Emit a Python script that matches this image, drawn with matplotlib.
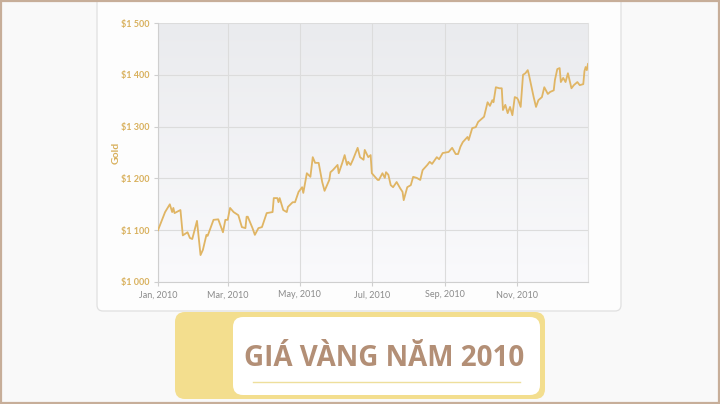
import numpy as np
import pandas as pd
import matplotlib
matplotlib.use("Agg")
import matplotlib.pyplot as plt
from matplotlib.patches import FancyBboxPatch, Rectangle
from matplotlib.colors import LinearSegmentedColormap

# ---- data ----
day_offsets = [0, 6, 10, 12, 13, 14, 19, 21, 25, 27, 29, 33, 36, 38, 41, 42, 47, 51, 55, 57,
               59, 61, 64, 68, 71, 74, 75, 76, 80, 82, 85, 88, 92, 97, 98, 101, 102, 103, 106, 109,
               110, 114, 116, 119, 122, 123, 126, 129, 131, 133, 136, 139, 141, 145, 146, 148, 152, 153, 156, 158,
               160, 161, 163, 165, 169, 171, 174, 175, 178, 180, 181, 186, 187, 190, 192, 193, 195, 197, 199, 202,
               205, 207, 208, 211, 214, 216, 219, 222, 224, 228, 230, 232, 236, 238, 241, 246, 249, 252, 254, 256,
               258, 262, 263, 266, 269, 271, 275, 276, 279, 281, 283, 284, 286, 289, 291, 292, 294, 296, 298, 300,
               302, 304, 305, 307, 309, 311, 313, 314, 318, 320, 322, 325, 327, 330, 332, 335, 336, 338, 340, 341,
               343, 345, 347, 350, 352, 355, 357, 360, 361, 362, 363, 364]
gold_price = [1100, 1135, 1150, 1135, 1143, 1133, 1139, 1090, 1096, 1085, 1083, 1118, 1052, 1062, 1091, 1089, 1120, 1121, 1096, 1120,
              1120, 1143, 1135, 1129, 1106, 1104, 1126, 1126, 1104, 1091, 1104, 1106, 1133, 1135, 1162, 1162, 1154, 1162, 1139, 1135,
              1145, 1154, 1154, 1174, 1183, 1172, 1210, 1203, 1241, 1230, 1230, 1193, 1176, 1197, 1212, 1216, 1226, 1210, 1230, 1245,
              1226, 1232, 1226, 1236, 1259, 1241, 1236, 1255, 1241, 1245, 1210, 1197, 1197, 1210, 1201, 1212, 1207, 1187, 1183, 1193,
              1181, 1174, 1158, 1183, 1187, 1203, 1201, 1197, 1216, 1226, 1232, 1228, 1241, 1237, 1249, 1251, 1259, 1247, 1247, 1261,
              1270, 1280, 1274, 1297, 1299, 1309, 1317, 1319, 1347, 1340, 1351, 1347, 1376, 1374, 1374, 1332, 1342, 1326, 1338, 1322,
              1357, 1355, 1351, 1338, 1400, 1403, 1409, 1400, 1357, 1338, 1351, 1357, 1376, 1363, 1367, 1370, 1390, 1411, 1413, 1386,
              1394, 1386, 1403, 1374, 1380, 1386, 1380, 1382, 1407, 1415, 1409, 1421]
y_ticks = [1000, 1100, 1200, 1300, 1400, 1500]
y_tick_labels = ["$1 000", "$1 100", "$1 200", "$1 300", "$1 400", "$1 500"]
x_tick_dates = ["2010-01-01", "2010-03-01", "2010-05-01", "2010-07-01", "2010-09-01", "2010-11-01"]
x_tick_labels = ["Jan, 2010", "Mar, 2010", "May, 2010", "Jul, 2010", "Sep, 2010", "Nov, 2010"]
title_text = "GIÁ VÀNG NĂM 2010"
y_label = "Gold"

dates = pd.Timestamp("2010-01-01") + pd.to_timedelta(day_offsets, unit="D")

W, H = 720, 404
fig = plt.figure(figsize=(W / 100, H / 100), dpi=100, facecolor="#f9f9f9")

# ---- background / decorations in pixel space ----
bg = fig.add_axes([0, 0, 1, 1], zorder=0)
bg.set_xlim(0, W)
bg.set_ylim(H, 0)
bg.axis("off")

bg.add_patch(FancyBboxPatch((97, -12), 524, 323,
                            boxstyle="round,pad=0,rounding_size=6",
                            fc="#fdfdfd", ec="#e0e0e0", lw=0.9))
bg.add_patch(FancyBboxPatch((175, 312), 370, 87,
                            boxstyle="round,pad=0,rounding_size=10",
                            fc="#f3de8e", ec="none"))
bg.add_patch(FancyBboxPatch((233, 317), 307, 78,
                            boxstyle="round,pad=0,rounding_size=10",
                            fc="#ffffff", ec="none"))
bg.plot([253, 520], [382, 382], color="#eedf9c", lw=1.0)
bg.text(384, 358, title_text, ha="center", va="center",
        fontsize=20, fontweight="bold", color="#b38f76",
        family=["Open Sans", "DejaVu Sans"])
bg.add_patch(Rectangle((1, 1), W - 2, H - 2, fill=False, ec="#c7ae99", lw=1.6))

# ---- chart ----
x0, x1, yt, yb = 158, 588, 23, 282
ax = fig.add_axes([x0 / W, (H - yb) / H, (x1 - x0) / W, (yb - yt) / H], zorder=1)
ax.patch.set_alpha(0)

grad = np.linspace(0, 1, 256).reshape(-1, 1)
cmap = LinearSegmentedColormap.from_list("bgg", ["#fafafc", "#eaebee"])
ax.imshow(grad, extent=[0, 1, 0, 1], transform=ax.transAxes, aspect="auto",
          cmap=cmap, origin="lower", zorder=0)

ax.plot(dates, gold_price, color="#e0b564", lw=1.3, zorder=3, solid_joinstyle="round")

ax.set_xlim(pd.Timestamp("2010-01-01"), pd.Timestamp("2010-12-31"))
ax.set_ylim(1000, 1500)
ax.set_yticks(y_ticks)
ax.set_yticklabels(y_tick_labels)
ax.set_xticks(pd.to_datetime(x_tick_dates))
ax.set_xticklabels(x_tick_labels)

ax.grid(True, color="#dcdcdc", lw=0.8, zorder=1)
ax.set_axisbelow(True)
for s in ["left", "bottom"]:
    ax.spines[s].set_color("#cfcfcf")
    ax.spines[s].set_linewidth(0.8)
ax.spines["top"].set_visible(False)
ax.spines["right"].set_color("#e2e2e2")
ax.spines["right"].set_linewidth(0.8)

ax.tick_params(axis="y", length=3, width=0.8, color="#cfcfcf", pad=3,
               labelsize=6.5, labelcolor="#d8b05c")
ax.tick_params(axis="x", length=3, width=0.8, color="#cfcfcf", pad=3,
               labelsize=6.5, labelcolor="#8a8a8a")
for lab in ax.get_yticklabels():
    lab.set_fontweight("bold")
    lab.set_family(["Lato", "DejaVu Sans"])
for lab in ax.get_xticklabels():
    lab.set_family(["Lato", "DejaVu Sans"])

ax.set_ylabel(y_label, color="#d8b05c", fontsize=7.5, fontweight="bold",
              family=["Lato", "DejaVu Sans"])
ax.yaxis.set_label_coords((121 - x0) / (x1 - x0), (yb - 153) / (yb - yt))

fig.savefig("out.png", dpi=100, facecolor=fig.get_facecolor())
